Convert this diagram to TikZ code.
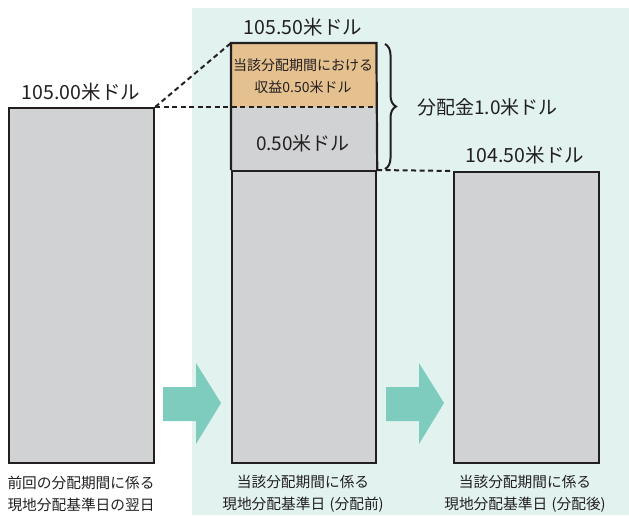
\documentclass[tikz,border=0pt]{standalone}
\usepackage{fontspec}
\setmainfont{Noto Sans CJK JP}
\usetikzlibrary{decorations.pathreplacing}
\definecolor{bgteal}{HTML}{E1F2EF}
\definecolor{bargray}{HTML}{D1D2D4}
\definecolor{orangefill}{HTML}{E5C190}
\definecolor{arrowteal}{HTML}{7ECCBD}
\definecolor{ink}{HTML}{231F20}
\tikzset{
  bar/.style={draw=ink, line width=2.2pt, fill=bargray, inner sep=0, anchor=north west, minimum width=145pt},
  part/.style={inner sep=0, anchor=north west, minimum width=145pt},
  dashline/.style={draw=ink, line width=2pt, dash pattern=on 5pt off 3.5pt},
  val/.style={text=ink, font=\fontsize{19.5}{22}\selectfont, inner sep=0},
  lab/.style={text=ink, font=\fontsize{14.7}{22.5}\selectfont, inner sep=0, align=center},
  inbox/.style={text=ink, font=\fontsize{14}{22}\selectfont, inner sep=0, align=center},
  bigarrow/.style={fill=arrowteal, draw=none}
}
\begin{document}
\begin{tikzpicture}[x=1pt,y=-1pt]
\useasboundingbox (0,0) rectangle (629,515);
\fill[bgteal] (192,8) rectangle (629,515);
% boxes
\node[bar, minimum height=355pt] (b1) at (8,107) {};
\node[part, fill=orangefill, minimum height=64pt] (m1) at (231,43) {};
\node[part, fill=bargray, minimum height=63pt] (m2) at (231,107) {};
\node[bar, minimum height=292pt, minimum width=144pt] (m3) at (231,170) {};
\draw[ink, line width=2.2pt] (m3.north west) -- (m1.north west) -- (m1.north east) -- (m3.north east);
\node[bar, minimum height=291pt] (b3) at (453,171) {};
% dashed guides
\draw[dashline] (b1.north east) -- (m1.north west);
\draw[dashline] (b1.north east) -- (m2.north east);
\draw[dashline] (m3.north east) -- (b3.north west);
% brace
\coordinate (brT) at (385,44);
\coordinate (brB) at (385,169);
\draw[ink, line width=2pt, decorate, decoration={brace, amplitude=11pt}] (brT) -- (brB);
\node[val, font=\fontsize{19}{22}\selectfont, anchor=west] (dist) at (417,107) {分配金1.0米ドル};
% values
\node[val] (v1) at (81,92) {105.00米ドル};
\node[val] (v2) at (303,27) {105.50米ドル};
\node[val] (v3) at (525,155) {104.50米ドル};
\node[inbox] (inc) at (303,76) {当該分配期間における\\収益0.50米ドル};
\node[val, font=\fontsize{19}{22}\selectfont] (half) at (303,143) {0.50米ドル};
% bottom labels
\node[lab] (l1) at (81,494) {前回の分配期間に係る\\現地分配基準日の翌日};
\node[lab] (l2) at (303,494) {当該分配期間に係る\\現地分配基準日\hspace{0.3em}(分配前)};
\node[lab] (l3) at (525,494) {当該分配期間に係る\\現地分配基準日\hspace{0.3em}(分配後)};
% arrows
\fill[bigarrow] (163,387) -- (196,387) -- (196,363) -- (221,403) -- (196,444) -- (196,421) -- (163,421) -- cycle;
\fill[bigarrow] (386,387) -- (419,387) -- (419,363) -- (444,403) -- (419,444) -- (419,421) -- (386,421) -- cycle;
\end{tikzpicture}
\end{document}
